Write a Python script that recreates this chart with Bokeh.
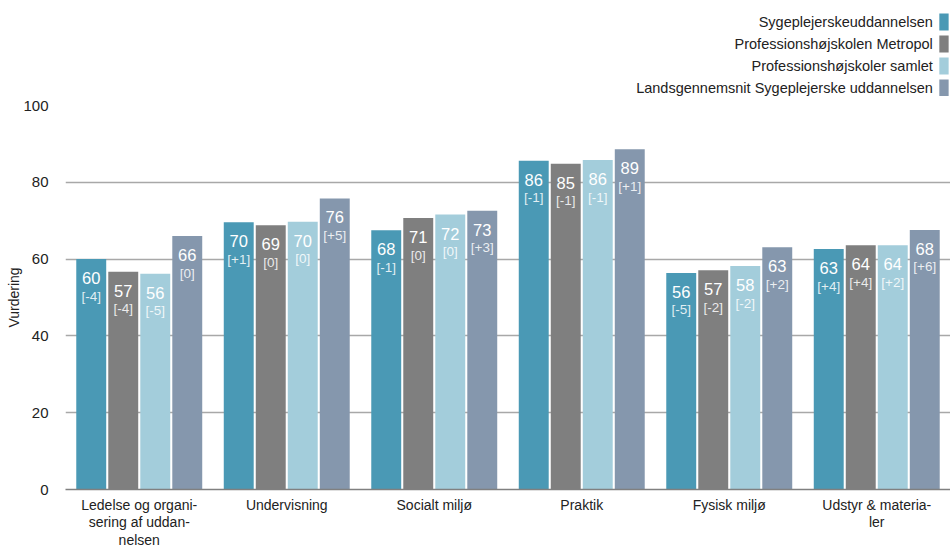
from bokeh.plotting import figure
from bokeh.models import FactorRange, Range1d, FixedTicker, ColumnDataSource
from bokeh.transform import dodge
from bokeh.layouts import column
from bokeh.core.properties import value
from bokeh.embed import file_html
from bokeh.resources import INLINE

FONT = "Liberation Sans"

categories = ["Ledelse og organi-\nsering af uddan-\nnelsen", "Undervisning", "Socialt miljø",
              "Praktik", "Fysisk miljø", "Udstyr & materia-\nler"]
series = ["Sygeplejerskeuddannelsen", "Professionshøjskolen Metropol",
          "Professionshøjskoler samlet", "Landsgennemsnit Sygeplejerske uddannelsen"]
colors = ["#4a99b5", "#7f7f7f", "#a3cddb", "#8597ad"]

sygepleje = [60.0, 69.6, 67.5, 85.6, 56.4, 62.6]
metropol = [56.7, 68.8, 70.7, 84.8, 57.1, 63.6]
samlet = [56.2, 69.7, 71.6, 85.8, 58.2, 63.6]
lands = [66.0, 75.8, 72.6, 88.6, 63.1, 67.6]

sygepleje_lbl = ["60", "70", "68", "86", "56", "63"]
metropol_lbl = ["57", "69", "71", "85", "57", "64"]
samlet_lbl = ["56", "70", "72", "86", "58", "64"]
lands_lbl = ["66", "76", "73", "89", "63", "68"]

sygepleje_delta = ["[-4]", "[+1]", "[-1]", "[-1]", "[-5]", "[+4]"]
metropol_delta = ["[-4]", "[0]", "[0]", "[-1]", "[-2]", "[+4]"]
samlet_delta = ["[-5]", "[0]", "[0]", "[-1]", "[-2]", "[+2]"]
lands_delta = ["[0]", "[+5]", "[+3]", "[+1]", "[+2]", "[+6]"]

values_all = [sygepleje, metropol, samlet, lands]
labels_all = [sygepleje_lbl, metropol_lbl, samlet_lbl, lands_lbl]
deltas_all = [sygepleje_delta, metropol_delta, samlet_delta, lands_delta]

W = 950
LEG_H = 96
MAIN_H = 454

# ---------- legend figure ----------
leg = figure(width=W, height=LEG_H, x_range=Range1d(0, W), y_range=Range1d(LEG_H, 0),
             toolbar_location=None, output_backend="svg", min_border=0)
leg.axis.visible = False
leg.grid.visible = False
leg.outline_line_color = None
row_y = [21.5 + i * 22 for i in range(len(series))]
leg.text(x=[931] * len(series), y=row_y, text=series, text_align="right",
         text_baseline="middle", text_font=value(FONT), text_font_size="14.5px",
         text_color="#222222")
leg.rect(x=[943] * len(series), y=row_y, width=10, height=17, fill_color=colors,
         line_color=None)

# ---------- main figure ----------
p = figure(width=W, height=MAIN_H, x_range=FactorRange(*categories, range_padding=0),
           y_range=Range1d(0, 100), toolbar_location=None, output_backend="svg",
           min_border_top=9, min_border_left=65, min_border_right=0, min_border_bottom=0)
p.outline_line_color = None

step = 0.217
bw = 0.203
offsets = [-1.5 * step, -0.5 * step, 0.5 * step, 1.5 * step]
for vals, lbls, dlts, col, off in zip(values_all, labels_all, deltas_all, colors, offsets):
    src = ColumnDataSource(dict(cat=categories, v=vals, lbl=lbls, d=dlts))
    p.vbar(x=dodge("cat", off, range=p.x_range), top="v", width=bw, source=src,
           fill_color=col, line_color=None)
    p.text(x=dodge("cat", off, range=p.x_range), y="v", text="lbl", source=src,
           y_offset=19, text_align="center", text_baseline="middle",
           text_font=value(FONT), text_font_size="16.5px", text_color="white")
    p.text(x=dodge("cat", off, range=p.x_range), y="v", text="d", source=src,
           y_offset=37, text_align="center", text_baseline="middle",
           text_font=value(FONT), text_font_size="13.5px", text_color="white",
           text_alpha=0.85)

p.xgrid.visible = False
p.ygrid.ticker = FixedTicker(ticks=[20, 40, 60, 80, 100])
p.ygrid.grid_line_color = "#a8a8a8"
p.ygrid.grid_line_width = 1.5
p.yaxis.ticker = FixedTicker(ticks=[0, 20, 40, 60, 80, 100])
p.yaxis.axis_line_color = None
p.yaxis.major_tick_line_color = None
p.yaxis.minor_tick_line_color = None
p.yaxis.axis_label = "Vurdering"
p.yaxis.axis_label_text_font = FONT
p.yaxis.axis_label_text_font_size = "14px"
p.yaxis.axis_label_text_font_style = "normal"
p.yaxis.axis_label_text_color = "#222222"
p.yaxis.axis_label_standoff = -2
p.yaxis.major_label_text_font = FONT
p.yaxis.major_label_text_font_size = "15px"
p.yaxis.major_label_text_color = "#222222"
p.yaxis.major_label_standoff = 11

p.xaxis.axis_line_color = "#808080"
p.xaxis.axis_line_width = 1.5
p.xaxis.major_tick_line_color = None
p.xaxis.minor_tick_line_color = None
p.xaxis.major_label_text_font = FONT
p.xaxis.major_label_text_font_size = "14px"
p.xaxis.major_label_text_color = "#222222"
p.xaxis.major_label_standoff = 1
p.xaxis.major_label_text_line_height = 1.1
p.xaxis.group_text_font_size = "0px"

layout = column(leg, p, spacing=0)
open("out.html", "w").write(file_html(layout, INLINE))
